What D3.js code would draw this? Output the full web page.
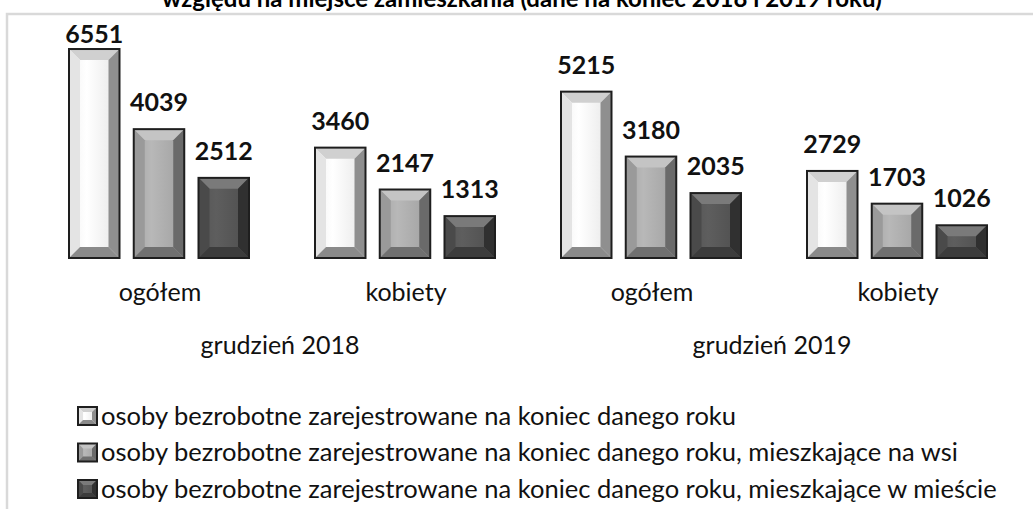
<!DOCTYPE html>
<html>
<head>
<meta charset="utf-8">
<script src="https://cdn.jsdelivr.net/npm/d3@7/dist/d3.min.js"></script>
<style>
  html, body { margin: 0; padding: 0; background: #fff; }
  svg { display: block; font-family: Lato, "Open Sans", sans-serif; }
</style>
</head>
<body>
<div id="root"></div>
<script>
// data
const groups = ["ogółem", "kobiety", "ogółem", "kobiety"];
const periods = ["grudzień 2018", "grudzień 2019"];
const seriesNames = [
  "osoby bezrobotne zarejestrowane na koniec danego roku",
  "osoby bezrobotne zarejestrowane na koniec danego roku, mieszkające na wsi",
  "osoby bezrobotne zarejestrowane na koniec danego roku, mieszkające w mieście"
];
const ogolem = [6551, 3460, 5215, 2729];
const naWsi = [4039, 2147, 3180, 1703];
const wMiescie = [2512, 1313, 2035, 1026];
const title = "względu na miejsce zamieszkania (dane na koniec 2018 i 2019 roku)";

const w = 1033, h = 509;
const values = [ogolem, naWsi, wMiescie];

// bevel shades per series: face, top, left, right, bottom
const shades = [
  { face: ["#f2f2f2", "#ffffff", "#e6e6e6"], top: "#d0d0d0", left: "#e4e4e4", right: "#8f8f8f", bottom: "#8a8a8a" },
  { face: ["#a6a6a6", "#b8b8b8", "#a0a0a0"], top: "#c4c4c4", left: "#9a9a9a", right: "#6a6a6a", bottom: "#707070" },
  { face: ["#555555", "#5e5e5e", "#4e4e4e"], top: "#7a7a7a", left: "#4a4a4a", right: "#303030", bottom: "#3c3c3c" }
];

const svg = d3.select("#root").append("svg")
  .attr("width", w)
  .attr("height", h);

const defs = svg.append("defs");
shades.forEach(function(s, i) {
  const g = defs.append("linearGradient").attr("id", "face" + i)
    .attr("x1", "0").attr("x2", "1").attr("y1", "0").attr("y2", "0");
  g.append("stop").attr("offset", "0%").attr("stop-color", s.face[0]);
  g.append("stop").attr("offset", "35%").attr("stop-color", s.face[1]);
  g.append("stop").attr("offset", "100%").attr("stop-color", s.face[2]);
});

// frame
svg.append("rect")
  .attr("x", 7).attr("y", 14)
  .attr("width", 1040).attr("height", 520)
  .attr("fill", "none")
  .attr("stroke", "#d9d9d9")
  .attr("stroke-width", 2.5);

// title (cut off at the top, as in the source)
svg.append("text")
  .attr("x", 522).attr("y", 7)
  .attr("text-anchor", "middle")
  .style("font-weight", "bold")
  .style("font-size", "24px")
  .text(title);

const x0 = d3.scaleBand()
  .domain(d3.range(groups.length))
  .range([36, 1020]);

const x1 = d3.scaleBand()
  .domain(d3.range(values.length))
  .range([33, 213])
  .paddingInner(0.22);

const y = d3.scaleLinear()
  .domain([0, 7000])
  .range([258, 34.7]);

function bevelBar(g, bx, by, bw, bh, s, i, bev) {
  const b = Math.min(bev, bw / 2 - 2, bh / 2 - 2);
  const x2 = bx + bw, y2 = by + bh;
  g.append("rect").attr("x", bx).attr("y", by).attr("width", bw).attr("height", bh)
    .attr("fill", "url(#face" + i + ")");
  g.append("polygon").attr("fill", s.top)
    .attr("points", [[bx, by], [x2, by], [x2 - b, by + b], [bx + b, by + b]].join(" "));
  g.append("polygon").attr("fill", s.left)
    .attr("points", [[bx, by], [bx + b, by + b], [bx + b, y2 - b], [bx, y2]].join(" "));
  g.append("polygon").attr("fill", s.right)
    .attr("points", [[x2, by], [x2, y2], [x2 - b, y2 - b], [x2 - b, by + b]].join(" "));
  g.append("polygon").attr("fill", s.bottom)
    .attr("points", [[bx, y2], [bx + b, y2 - b], [x2 - b, y2 - b], [x2, y2]].join(" "));
  g.append("rect").attr("x", bx).attr("y", by).attr("width", bw).attr("height", bh)
    .attr("fill", "none").attr("stroke", "#1e1e1e").attr("stroke-width", 2);
}

const chart = svg.append("g");

groups.forEach(function(name, gi) {
  values.forEach(function(vals, si) {
    const v = vals[gi];
    const bx = x0(gi) + x1(si);
    const g = chart.append("g");
    bevelBar(g, bx, y(v), x1.bandwidth(), y(0) - y(v), shades[si], si, 11);
    // labels stay inside the plot area, so the tallest one sits lower
    chart.append("text")
      .attr("x", bx + x1.bandwidth() / 2)
      .attr("y", Math.max(y(v) - 18, 43))
      .attr("text-anchor", "middle")
      .style("font-weight", "bold")
      .style("font-size", "25px")
      .style("fill", "#111")
      .text(v);
  });
  chart.append("text")
    .attr("x", x0(gi) + x0.bandwidth() / 2 + 1)
    .attr("y", 301)
    .attr("text-anchor", "middle")
    .style("font-size", "25px")
    .style("fill", "#111")
    .text(name);
});

periods.forEach(function(p, pi) {
  const cx = (x0(pi * 2) + x0(pi * 2 + 1) + x0.bandwidth()) / 2;
  chart.append("text")
    .attr("x", cx - 2)
    .attr("y", 354)
    .attr("text-anchor", "middle")
    .style("font-size", "25px")
    .style("fill", "#111")
    .text(p);
});

// legend
const legend = svg.append("g").attr("transform", "translate(78,407)");
seriesNames.forEach(function(name, i) {
  const row = legend.append("g").attr("transform", "translate(0," + (i * 36.5) + ")");
  bevelBar(row, 0, 0, 19, 18, shades[i], i, 5);
  row.append("text")
    .attr("x", 23).attr("y", 17.5)
    .style("font-size", "25.5px")
    .style("fill", "#111")
    .text(name);
});
</script>
</body>
</html>
